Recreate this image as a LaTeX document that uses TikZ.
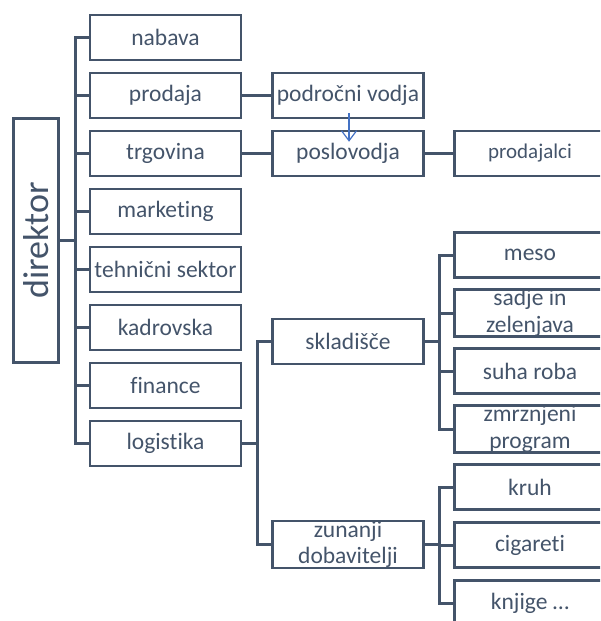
\documentclass[tikz,border=0pt]{standalone}
\usepackage{fontspec}
\setmainfont{Carlito}[Ligatures=NoCommon]
\usepackage{tikz}
\usetikzlibrary{arrows.meta}
\definecolor{slate}{HTML}{44546A}
\definecolor{note}{HTML}{4472C4}

\begin{document}
\begin{tikzpicture}[x=1pt,y=-1pt,
    box/.style={draw=slate,line width=2.5pt,text=slate,minimum width=151pt,minimum height=45pt,
      inner sep=0pt,align=center,font=\fontsize{23.5}{26.5}\selectfont},
    link/.style={draw=slate,line width=3pt}]
  \useasboundingbox (0,0) rectangle (600,621);
  \clip (0,0) rectangle (600,621);
  % Director
  \node[box,minimum width=45pt,minimum height=244pt] (dir) at (36,240.5)
    {\fontsize{36}{36}\selectfont\rotatebox{90}{direktor}};
  % Departments
  \foreach \name/\txt [count=\i from 0] in {nab/nabava,prod/prodaja,trg/trgovina,mark/marketing,
      teh/tehnični sektor,kad/kadrovska,fin/finance,log/logistika}
    \node[box] (\name) at (165.5,37.5+58*\i) {\txt};
  % Second level
  \node[box] (pv) at (348,95.5) {področni vodja};
  \node[box] (pos) at (348,153.5) {poslovodja};
  \node[box] (skl) at (348,341.5) {skladišče};
  \node[box] (zun) at (348,544.5) {zunanji\\dobavitelji};
  % Third level
  \node[box,font=\fontsize{21}{24}\selectfont] (pro) at (530,153.5) {prodajalci};
  \foreach \name/\txt [count=\i from 0] in {meso/meso,sad/sadje in\\zelenjava,suha/suha roba,
      zmr/zmrznjeni\\program,kruh/kruh,cig/cigareti}
    \node[box] (\name) at (530,255+58*\i) {\txt};
  \node[box] (knj) at (530,603) {knjige \dots};
  % Connectors
  \foreach \name in {nab,prod,trg,mark,teh,kad,fin,log}
    \draw[link] (dir.east) -- ++(15.5,0) |- (\name.west);
  \draw[link] (prod) -- (pv);
  \draw[link] (trg) -- (pos);
  \draw[link] (pos) -- (pro);
  \foreach \name in {skl,zun}
    \draw[link] (log.east) -- ++(15.5,0) |- (\name.west);
  \foreach \name in {meso,sad,suha,zmr}
    \draw[link] (skl.east) -- ++(15,0) |- (\name.west);
  \foreach \name in {kruh,cig,knj}
    \draw[link] (zun.east) -- ++(15,0) |- (\name.west);
  % Arrow
  \draw[-{Straight Barb[length=10pt,width=15pt]},note,line width=1.2pt]
    ([xshift=1pt,yshift=6pt]pv.south) -- ([xshift=1pt,yshift=-12pt]pos.north);
\end{tikzpicture}
\end{document}
